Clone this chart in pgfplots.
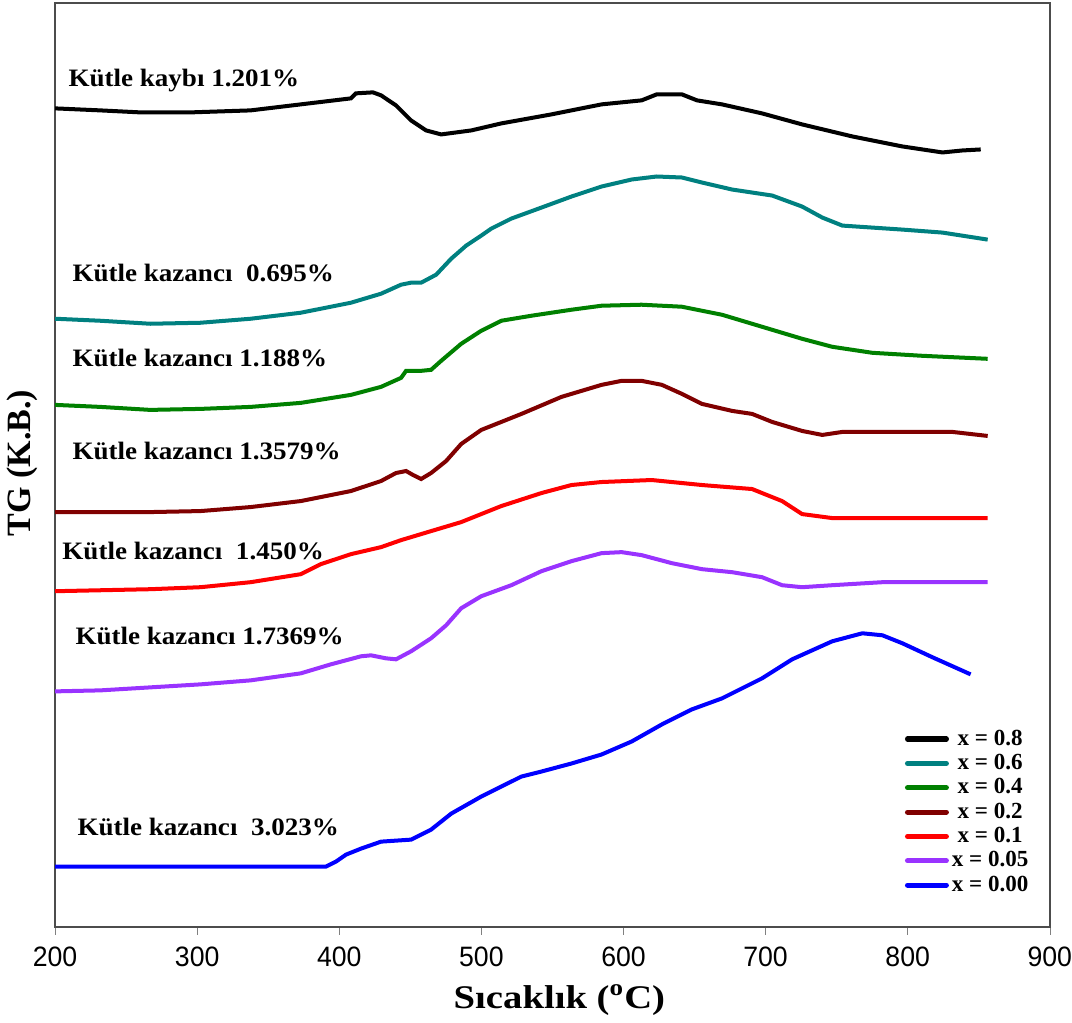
\documentclass[border=0pt]{standalone}
\usepackage{fontspec}
\setmainfont{Liberation Serif}
\newfontfamily\tickfont[FakeStretch=0.95]{Liberation Sans}
\usepackage{pgfplots}
\pgfplotsset{compat=1.18}
\definecolor{cteal}{RGB}{0,128,128}
\definecolor{cgreen}{RGB}{0,128,0}
\definecolor{cmaroon}{RGB}{128,0,0}
\definecolor{cred}{RGB}{255,0,0}
\definecolor{cpurple}{RGB}{153,51,255}
\definecolor{cblue}{RGB}{0,0,255}
\newcommand{\lab}[1]{\scalebox{1.08}[1]{#1}}
\begin{document}
\begin{tikzpicture}
\begin{axis}[
  scale only axis, width=496.5pt, height=461pt,
  xmin=200, xmax=900, ymin=0, ymax=922,
  xtick={200,300,...,900}, ytick=\empty,
  xtick pos=bottom, tick align=outside,
  major tick length=4pt,
  axis line style={line width=1pt, black!70},
  x tick label style={font=\tickfont\fontsize{14}{14}\selectfont, inner xsep=0pt, yshift=-2.7pt},
  /pgf/number format/assume math mode=true,
  xlabel={\scalebox{1.17}[1]{\textbf{Sıcaklık (\textsuperscript{o}C)}}},
  xlabel style={font=\fontsize{16.5}{16.5}\selectfont, at={(rel axis cs:0.507,0)}, anchor=north, yshift=-25.5pt},
  ylabel={\textbf{TG (K.B.)}},
  ylabel style={font=\fontsize{17}{17}\selectfont, at={(rel axis cs:0,0.502)}, anchor=south, yshift=5pt},
  legend style={draw=none, fill=none, at={(rel axis cs:0.852,0.219)}, anchor=north west,
    font=\bfseries\fontsize{11.5}{11.5}\selectfont, row sep=0pt, inner sep=1pt,
    nodes={inner sep=1.5pt}},
  legend image code/.code={\draw[#1, line width=2.6pt, line cap=round] (0cm,0cm) -- (0.68cm,0cm);},
  every axis plot/.append style={line width=2pt},
]
\addplot[black] coordinates {(200,817)(231.8,815)(260,813)(295.3,813)(337.6,815)(372.9,821)(408.2,827)(411.7,832)(423.7,833)(429.4,830)(439.9,820)(450.5,805)(461.1,795)(471.7,791)(492.9,795)(514,802)(549.3,811)(584.6,821)(612.8,825)(623.4,831)(641.1,831)(651.7,825)(669.3,821)(697.5,812)(725.7,801)(761,789)(796.3,779)(824.5,773)(838.6,775)(851.4,776)};
\addlegendentry{x = 0.8}
\addplot[cteal] coordinates {(200,607)(231.8,605)(267,602)(302.3,603)(337.6,607)(372.9,613)(408.2,623)(429.4,632)(443.5,641)(450.5,643)(457.6,643)(468.2,651)(478.8,667)(489.3,680)(499.9,690)(507,697)(521.1,707)(542.3,718)(563.4,729)(584.6,739)(605.8,746)(623.4,749)(641.1,748)(655.2,743)(676.4,736)(704.6,730)(725.7,719)(739.9,708)(754,700)(775.1,698)(796.3,696)(824.5,693)(856.3,686)};
\addlegendentry{x = 0.6}
\addplot[cgreen] coordinates {(200,521)(231.8,519)(267,516)(302.3,517)(337.6,519)(372.9,523)(408.2,531)(429.4,539)(443.5,548)(447,555)(457.6,555)(464.6,556)(471.7,565)(485.8,582)(499.9,595)(514,605)(535.2,610)(563.4,616)(584.6,620)(612.8,621)(641.1,619)(669.3,611)(697.5,599)(725.7,587)(746.9,579)(775.1,573)(810.4,570)(856.3,567)};
\addlegendentry{x = 0.4}
\addplot[cmaroon] coordinates {(200,414)(267,414)(302.3,415)(337.6,419)(372.9,425)(408.2,435)(429.4,445)(439.9,453)(447,455)(451.9,451)(457.6,447)(464.6,453)(475.2,465)(485.8,482)(499.9,496)(528.2,512)(556.4,529)(584.6,541)(598.7,545)(612.8,545)(627,541)(641.1,532)(655.2,522)(676.4,515)(690.5,512)(704.6,504)(725.7,495)(739.9,491)(754,494)(775.1,494)(831.6,494)(856.3,490)};
\addlegendentry{x = 0.2}
\addplot[cred] coordinates {(200,335)(267,337)(302.3,339)(337.6,344)(372.9,352)(387,362)(408.2,372)(429.4,379)(443.5,386)(464.6,395)(485.8,404)(514,420)(542.3,433)(563.4,441)(584.6,444)(619.9,446)(655.2,441)(690.5,437)(711.6,425)(725.7,412)(746.9,408)(856.3,408)};
\addlegendentry{x = 0.1}
\addplot[cpurple] coordinates {(200,235)(231.8,236)(267,239)(302.3,242)(337.6,246)(372.9,253)(394.1,262)(415.2,270)(422.3,271)(432.9,268)(439.9,267)(450.5,275)(464.6,288)(475.2,301)(485.8,318)(499.9,330)(521.1,341)(542.3,355)(563.4,365)(584.6,373)(598.7,374)(612.8,371)(634,363)(655.2,357)(676.4,354)(697.5,349)(711.6,341)(725.7,339)(746.9,341)(782.2,344)(856.3,344)};
\addlegendentry{x = 0.05}
\addplot[cblue] coordinates {(200,60)(390.5,60)(397.6,65)(404.7,72)(415.2,78)(429.4,85)(450.5,87)(464.6,97)(478.8,113)(499.9,130)(528.2,150)(542.3,155)(563.4,163)(584.6,172)(605.8,185)(627,202)(648.1,217)(669.3,228)(697.5,248)(718.7,267)(746.9,285)(768.1,293)(782.2,291)(796.3,283)(817.5,269)(844.3,252)};
\addlegendentry{x = 0.00}
\begin{scope}[every node/.style={anchor=west, font=\bfseries\fontsize{12.5}{12.5}\selectfont, inner sep=0pt}]
\node at (axis cs:209.2,845) {\lab{Kütle kaybı 1.201\%}};
\node at (axis cs:212,653) {\lab{Kütle kazancı~ 0.695\%}};
\node at (axis cs:212,568) {\lab{Kütle kazancı 1.188\%}};
\node at (axis cs:212,475) {\lab{Kütle kazancı 1.3579\%}};
\node at (axis cs:204.9,375) {\lab{Kütle kazancı~ 1.450\%}};
\node at (axis cs:214.1,290) {\lab{Kütle kazancı 1.7369\%}};
\node at (axis cs:215.5,100) {\lab{Kütle kazancı~ 3.023\%}};
\end{scope}
\end{axis}
\path (current axis.north west) ++(-27.5pt,1.5pt) rectangle ++(0.1pt,0.1pt);
\end{tikzpicture}
\end{document}
